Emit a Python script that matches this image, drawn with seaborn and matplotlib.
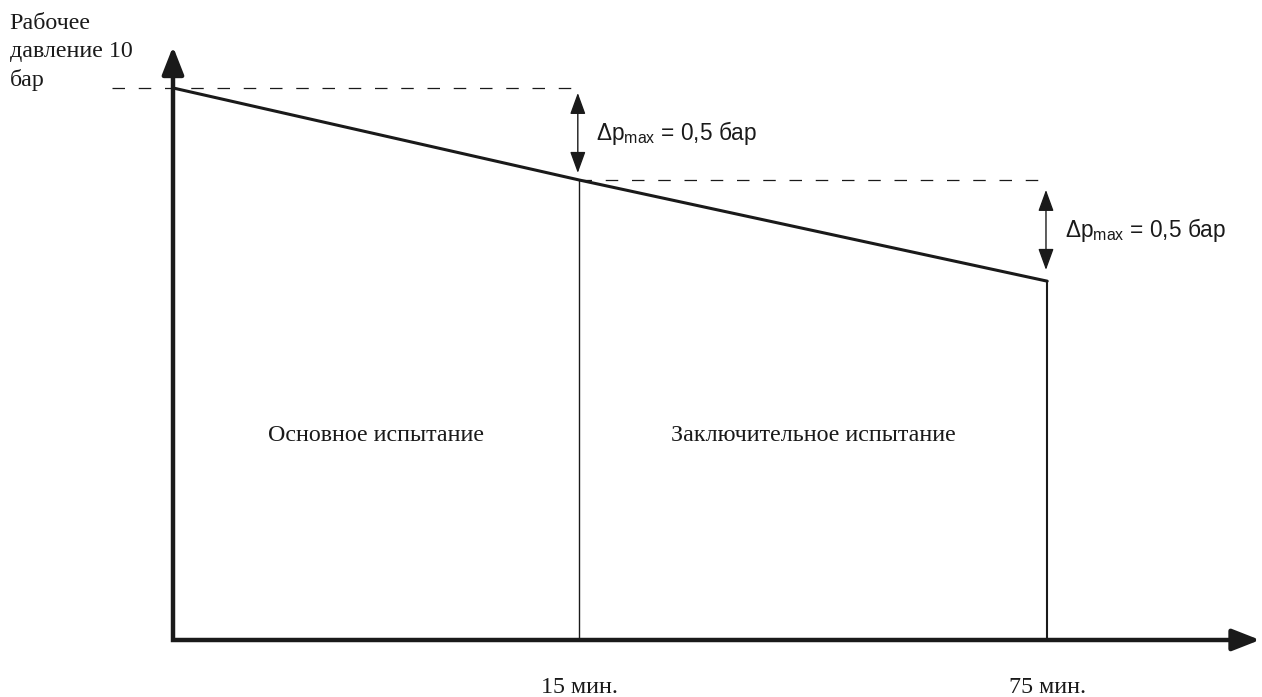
import matplotlib
matplotlib.use("Agg")
import matplotlib.pyplot as plt
import seaborn as sns
import pandas as pd

# schematic time axis: 0 = start, 1.0 = 15 min, 2.153 = 75 min
time_pos = [0.0, 1.0, 2.153]
time_labels = ["", "15 мин.", "75 мин."]
pressure = [10.0, 9.5, 8.95]          # bar, schematic
drop_label = r"$\Delta\mathrm{p}_{\mathrm{max}}$ = 0,5 бар"
phase_names = ["Основное испытание", "Заключительное испытание"]
y_label = "Рабочее\nдавление 10\nбар"

sns.set_theme(style="white")
plt.rcParams["font.family"] = ["Liberation Serif", "DejaVu Serif"]
plt.rcParams["mathtext.fontset"] = "custom"
plt.rcParams["mathtext.rm"] = "Liberation Sans"
plt.rcParams["mathtext.it"] = "Liberation Sans"

fig = plt.figure(figsize=(12.62, 6.97), dpi=100)
ax = fig.add_axes([0, 0, 1, 1])
ax.set_xlim(-0.426, 2.682)
ax.set_ylim(6.69, 10.478)
ax.axis("off")

ink = "#1a1a1a"
y0 = 7.0
df = pd.DataFrame({"t": time_pos, "p": pressure})
sns.lineplot(data=df, x="t", y="p", color=ink, lw=2.2, ax=ax)

# axes: one polyline with a square corner, arrowheads on the ends
y_top, x_end = 10.12, 2.61
ax.plot([0, 0, x_end], [y_top, y0, y0], color=ink, lw=3.2,
        solid_joinstyle="miter", solid_capstyle="butt")
ax.annotate("", xy=(0, 10.225), xytext=(0, y_top),
            arrowprops=dict(arrowstyle="-|>,head_length=1.4,head_width=0.55",
                            color=ink, lw=3.2, shrinkA=0, shrinkB=0))
ax.annotate("", xy=(2.677, y0), xytext=(x_end, y0),
            arrowprops=dict(arrowstyle="-|>,head_length=1.4,head_width=0.55",
                            color=ink, lw=3.2, shrinkA=0, shrinkB=0))

# phase boundaries
ax.plot([time_pos[1]] * 2, [y0, pressure[1]], color=ink, lw=1.0)
ax.plot([time_pos[2]] * 2, [y0, pressure[2]], color=ink, lw=1.5)

# dashed reference levels
ax.plot([-0.15, time_pos[1]], [pressure[0]] * 2, color=ink, lw=0.9,
        linestyle=(0, (10, 11)))
ax.plot([time_pos[1], time_pos[2]], [pressure[1]] * 2, color=ink, lw=0.9,
        linestyle=(0, (10, 11)))

# pressure drop arrows
for x, top, bot, tx in [(time_pos[1] - 0.003, 9.973, 9.538, 1.042),
                        (time_pos[2] - 0.003, 9.446, 9.011, 2.197)]:
    ax.annotate("", xy=(x, top), xytext=(x, bot),
                arrowprops=dict(arrowstyle="<|-|>,head_length=1.1,head_width=0.4",
                                color=ink, lw=1.0, shrinkA=0, shrinkB=0))
    ax.text(tx, (top + bot) / 2, drop_label, family="Liberation Sans",
            fontsize=16.3, ha="left", va="center", color=ink)

# phase labels
ax.text((time_pos[0] + time_pos[1]) / 2, 8.082, phase_names[0], fontsize=17.3,
        ha="center", va="baseline", color=ink)
ax.text((time_pos[1] + time_pos[2]) / 2, 8.082, phase_names[1], fontsize=17.3,
        ha="center", va="baseline", color=ink)

# time labels
for x, lab in zip(time_pos, time_labels):
    ax.text(x, 6.712, lab, fontsize=17.3, ha="center", va="baseline", color=ink)

ax.text(-0.402, 10.41, y_label, fontsize=17.3, ha="left", va="top",
        color=ink, linespacing=1.45)

fig.savefig("out.png", dpi=100)
